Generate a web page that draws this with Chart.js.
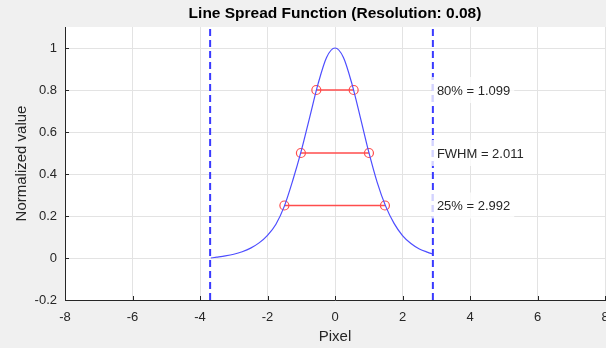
<!DOCTYPE html>
<html>
<head>
<meta charset="utf-8">
<script src="https://cdn.jsdelivr.net/npm/chart.js@4/dist/chart.umd.min.js"></script>
<style>
  body { margin: 0; background: #f0f0f0; }
  canvas { display: block; }
</style>
</head>
<body>
<canvas id="lsf" width="606" height="348"></canvas>
<script>
// Line spread curve
const lsfX = [-3.68, -3.5, -3.25, -3.0, -2.75, -2.5, -2.25, -2.0, -1.75, -1.5, -1.25, -1.0, -0.75, -0.5, -0.25, 0, 0.25, 0.5, 0.75, 1.0, 1.25, 1.5, 1.75, 2.0, 2.25, 2.5, 2.75, 2.88];
const lsfY = [0.0, 0.004, 0.01, 0.018, 0.03, 0.047, 0.072, 0.108, 0.161, 0.247, 0.37, 0.51, 0.67, 0.83, 0.955, 1.0, 0.955, 0.83, 0.67, 0.505, 0.36, 0.247, 0.165, 0.107, 0.069, 0.043, 0.027, 0.02];

// Window edges (dashed lines)
const edgeX = [-3.7, 2.9];

// Width markers
const levels = [0.8, 0.5, 0.25];
const levelLeft = [-0.553, -1.01, -1.5];
const levelRight = [0.553, 1.006, 1.48];
const levelText = ['80% = 1.099', 'FWHM = 2.011', '25% = 2.992'];
const textX = 2.9;

const titleText = 'Line Spread Function (Resolution: 0.08)';
const yMin = -0.2, yMax = 1.1;
const xMin = -8, xMax = 8;

const datasets = [];

datasets.push({
  data: lsfX.map((x, i) => ({x: x, y: lsfY[i]})),
  showLine: true,
  borderColor: '#4d4dff',
  borderWidth: 1.2,
  pointRadius: 0,
  cubicInterpolationMode: 'monotone'
});

for (let i = 0; i < levels.length; i++) {
  datasets.push({
    data: [{x: levelLeft[i], y: levels[i]}, {x: levelRight[i], y: levels[i]}],
    showLine: true,
    borderColor: '#ff4d4d',
    borderWidth: 1.3,
    pointRadius: 4.5,
    pointBorderColor: '#ff4d4d',
    pointBackgroundColor: 'rgba(0,0,0,0)',
    pointBorderWidth: 1.2
  });
}

edgeX.forEach(x => {
  datasets.push({
    data: [{x: x, y: yMin}, {x: x, y: yMax}],
    showLine: true,
    borderColor: '#3a3aff',
    borderWidth: 2,
    borderDash: [7, 4],
    pointRadius: 0
  });
});

// gray page, white axes box, title centred over the axes
const bgPlugin = {
  id: 'bg',
  beforeDraw(chart) {
    const {ctx, chartArea: a} = chart;
    ctx.save();
    ctx.fillStyle = '#f0f0f0';
    ctx.fillRect(0, 0, chart.width, chart.height);
    ctx.fillStyle = '#ffffff';
    ctx.fillRect(a.left, a.top, a.right - a.left, a.bottom - a.top);
    ctx.fillStyle = '#000000';
    ctx.font = 'bold 15.5px "Liberation Sans", Arial, sans-serif';
    ctx.textAlign = 'center';
    ctx.textBaseline = 'middle';
    ctx.fillText(titleText, (a.left + a.right) / 2, 14);
    ctx.restore();
  }
};

// inward tick marks + text boxes
const extrasPlugin = {
  id: 'extras',
  afterDatasetsDraw(chart) {
    const {ctx, chartArea: a, scales: {x, y}} = chart;
    ctx.save();
    ctx.strokeStyle = '#262626';
    ctx.lineWidth = 1;
    x.ticks.forEach(t => {
      const px = Math.round(x.getPixelForValue(t.value)) + 0.5;
      ctx.beginPath();
      ctx.moveTo(px, a.bottom);
      ctx.lineTo(px, a.bottom - 4);
      ctx.stroke();
    });
    y.ticks.forEach(t => {
      const py = Math.round(y.getPixelForValue(t.value)) + 0.5;
      ctx.beginPath();
      ctx.moveTo(a.left, py);
      ctx.lineTo(a.left + 4, py);
      ctx.stroke();
    });

    ctx.font = '13px "Liberation Sans", Arial, sans-serif';
    ctx.textBaseline = 'middle';
    levelText.forEach((txt, i) => {
      const px = x.getPixelForValue(textX);
      const py = y.getPixelForValue(levels[i]);
      const w = ctx.measureText(txt).width;
      ctx.fillStyle = 'rgba(255,255,255,0.78)';
      ctx.fillRect(px - 1, py - 13, w + 9, 26);
      ctx.fillStyle = '#262626';
      ctx.fillText(txt, px + 4, py + 1);
    });
    ctx.restore();
  }
};

new Chart(document.getElementById('lsf'), {
  type: 'scatter',
  data: { datasets: datasets },
  plugins: [bgPlugin, extrasPlugin],
  options: {
    responsive: false,
    animation: false,
    layout: { autoPadding: false, padding: { left: 0, right: 1, top: 27, bottom: 0 } },
    plugins: {
      legend: { display: false },
      tooltip: { enabled: false },
      title: { display: false }
    },
    scales: {
      x: {
        type: 'linear',
        min: xMin,
        max: xMax,
        ticks: {
          stepSize: 2,
          color: '#262626',
          padding: 10,
          maxRotation: 0,
          font: { family: '"Liberation Sans", Arial, sans-serif', size: 13 }
        },
        grid: { color: '#e3e3e3', drawTicks: false },
        border: { color: '#262626', width: 1 },
        title: {
          display: true,
          text: 'Pixel',
          color: '#262626',
          font: { family: '"Liberation Sans", Arial, sans-serif', size: 15 },
          padding: { top: 0, bottom: 2 }
        },
        afterFit(scale) {
          scale.height = 48;
          scale.paddingRight = 0;
          scale.paddingLeft = 0;
        }
      },
      y: {
        type: 'linear',
        min: yMin,
        max: yMax,
        ticks: {
          stepSize: 0.2,
          color: '#262626',
          padding: 8,
          font: { family: '"Liberation Sans", Arial, sans-serif', size: 13 },
          callback: v => Math.round(v * 10) / 10
        },
        afterBuildTicks(scale) {
          scale.ticks = scale.ticks.filter(t => t.value <= 1.0001);
        },
        grid: { color: '#e3e3e3', drawTicks: false },
        border: { color: '#262626', width: 1 },
        title: {
          display: true,
          text: 'Normalized value',
          color: '#262626',
          font: { family: '"Liberation Sans", Arial, sans-serif', size: 15 },
          padding: { top: 13, bottom: 0 }
        },
        afterFit(scale) {
          scale.width = 65;
          scale.paddingTop = 0;
          scale.paddingBottom = 0;
        }
      }
    }
  }
});
</script>
</body>
</html>
